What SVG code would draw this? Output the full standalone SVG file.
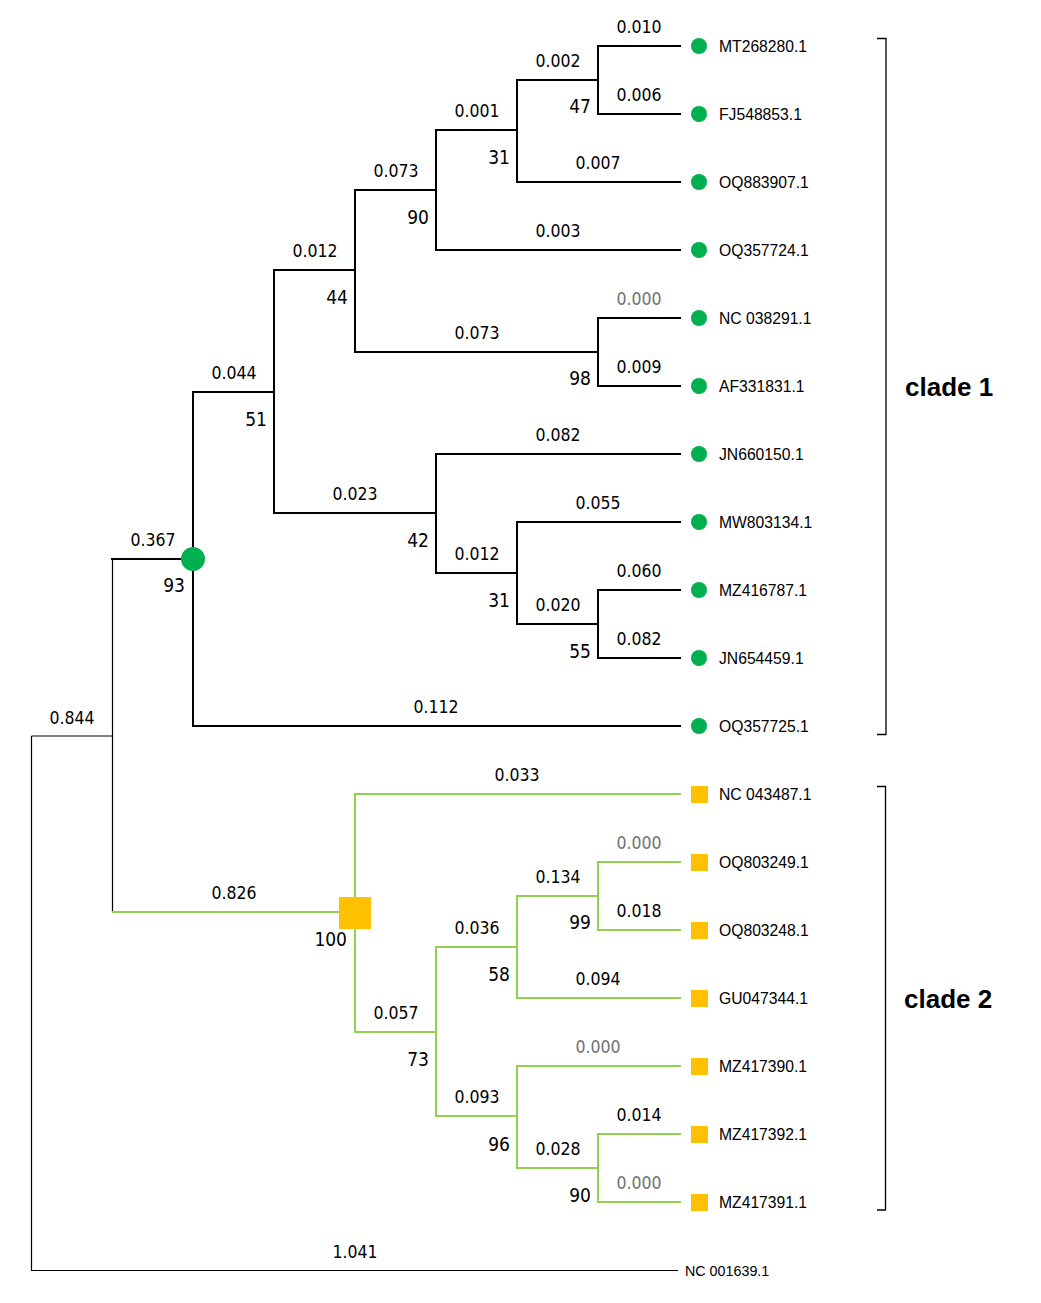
<svg xmlns="http://www.w3.org/2000/svg" width="1041" height="1303" viewBox="0 0 1041 1303">
  <style>
    .br { fill: none; stroke: #000; stroke-width: 2; stroke-linecap: square; }
    .br2 { fill: none; stroke: #92D050; stroke-width: 2; stroke-linecap: square; }
    .thin { fill: none; stroke: #000; stroke-width: 1.2; }
    .len { font-family: "DejaVu Sans Condensed", "DejaVu Sans", sans-serif; font-stretch: condensed; font-size: 17.5px; fill: #000; text-anchor: middle; }
    .zero { fill: #707070; }
    .bs { font-family: "DejaVu Sans Condensed", "DejaVu Sans", sans-serif; font-stretch: condensed; font-size: 19px; fill: #000; text-anchor: end; }
    .tip { font-family: "Liberation Sans", Arial, sans-serif; font-size: 15.7px; fill: #000; }
    .out { font-family: "Liberation Sans", Arial, sans-serif; font-size: 14.3px; fill: #000; }
    .clade { font-family: "Liberation Sans", Arial, sans-serif; font-size: 26px; font-weight: bold; fill: #000; }
    .g1 { fill: #00B050; }
    .g2 { fill: #FFC000; }
    .bracket { fill: none; stroke: #000; stroke-width: 1.3; }
  </style>
  <rect width="1041" height="1303" fill="#fff"/>

  <!-- branches -->
  <g id="connectors">
    <!-- root and outgroup -->
    <path class="thin" d="M31.5 736 V1270.5 H678 M31.5 736 H112.5 V912"/>
    <path class="thin" d="M112.5 736 V559" stroke-width="1.5"/>
    <!-- clade 1 -->
    <path class="br" d="M112 559 H193 M193 392 V726 M193 392 H274 M193 726 H680"/>
    <path class="br" d="M274 270 V513 M274 270 H355 M274 513 H436"/>
    <path class="br" d="M355 190 V352 M355 190 H436 M355 352 H598"/>
    <path class="br" d="M436 130 V250 M436 130 H517 M436 250 H680"/>
    <path class="br" d="M517 80 V182 M517 80 H598 M517 182 H680"/>
    <path class="br" d="M598 46 V114 M598 46 H680 M598 114 H680"/>
    <path class="br" d="M598 318 V386 M598 318 H680 M598 386 H680"/>
    <path class="br" d="M436 454 V573 M436 454 H680 M436 573 H517"/>
    <path class="br" d="M517 522 V624 M517 522 H680 M517 624 H598"/>
    <path class="br" d="M598 590 V658 M598 590 H680 M598 658 H680"/>
    <!-- clade 2 -->
    <path class="br2" d="M113 912 H355 M355 794 V1032 M355 794 H680 M355 1032 H436"/>
    <path class="br2" d="M436 947 V1116 M436 947 H517 M436 1116 H517"/>
    <path class="br2" d="M517 896 V998 M517 896 H598 M517 998 H680"/>
    <path class="br2" d="M598 862 V930 M598 862 H680 M598 930 H680"/>
    <path class="br2" d="M517 1066 V1168 M517 1066 H680 M517 1168 H598"/>
    <path class="br2" d="M598 1134 V1202 M598 1134 H680 M598 1202 H680"/>
  </g>

  <!-- branch lengths -->
  <g id="branch-lengths" class="len">
    <text x="639" y="33">0.010</text>
    <text x="639" y="101">0.006</text>
    <text x="558" y="67">0.002</text>
    <text x="598" y="169">0.007</text>
    <text x="477" y="117">0.001</text>
    <text x="558" y="237">0.003</text>
    <text x="396" y="177">0.073</text>
    <text x="639" y="305" class="zero">0.000</text>
    <text x="639" y="373">0.009</text>
    <text x="477" y="339">0.073</text>
    <text x="315" y="257">0.012</text>
    <text x="234" y="379">0.044</text>
    <text x="558" y="441">0.082</text>
    <text x="598" y="509">0.055</text>
    <text x="639" y="577">0.060</text>
    <text x="639" y="645">0.082</text>
    <text x="558" y="611">0.020</text>
    <text x="477" y="560">0.012</text>
    <text x="355" y="500">0.023</text>
    <text x="436" y="713">0.112</text>
    <text x="153" y="546">0.367</text>
    <text x="72" y="724">0.844</text>
    <text x="234" y="899">0.826</text>
    <text x="517" y="781">0.033</text>
    <text x="639" y="849" class="zero">0.000</text>
    <text x="558" y="883">0.134</text>
    <text x="639" y="917">0.018</text>
    <text x="477" y="934">0.036</text>
    <text x="598" y="985">0.094</text>
    <text x="396" y="1019">0.057</text>
    <text x="598" y="1053" class="zero">0.000</text>
    <text x="477" y="1103">0.093</text>
    <text x="639" y="1121">0.014</text>
    <text x="558" y="1155">0.028</text>
    <text x="639" y="1189" class="zero">0.000</text>
    <text x="355" y="1258">1.041</text>
  </g>

  <!-- internal nodes with bootstrap support -->
  <g id="node-c1" ><circle class="g1" cx="193" cy="559" r="12"/><text class="bs" x="185" y="592">93</text></g>
  <g id="node-c2"><rect class="g2" x="339" y="897" width="32" height="32"/><text class="bs" x="347" y="946">100</text></g>
  <g id="node-47"><text class="bs" x="591" y="113">47</text></g>
  <g id="node-31a"><text class="bs" x="510" y="164">31</text></g>
  <g id="node-90a"><text class="bs" x="429" y="224">90</text></g>
  <g id="node-44"><text class="bs" x="348" y="304">44</text></g>
  <g id="node-98"><text class="bs" x="591" y="385">98</text></g>
  <g id="node-51"><text class="bs" x="267" y="426">51</text></g>
  <g id="node-42"><text class="bs" x="429" y="547">42</text></g>
  <g id="node-31b"><text class="bs" x="510" y="607">31</text></g>
  <g id="node-55"><text class="bs" x="591" y="658">55</text></g>
  <g id="node-99"><text class="bs" x="591" y="929">99</text></g>
  <g id="node-58"><text class="bs" x="510" y="981">58</text></g>
  <g id="node-73"><text class="bs" x="429" y="1066">73</text></g>
  <g id="node-96"><text class="bs" x="510" y="1151">96</text></g>
  <g id="node-90b"><text class="bs" x="591" y="1202">90</text></g>

  <!-- clade 1 tips -->
  <g id="MT268280"><circle class="g1" cx="699" cy="46" r="8"/><text class="tip" x="719" y="52">MT268280.1</text></g>
  <g id="FJ548853"><circle class="g1" cx="699" cy="114" r="8"/><text class="tip" x="719" y="120">FJ548853.1</text></g>
  <g id="OQ883907"><circle class="g1" cx="699" cy="182" r="8"/><text class="tip" x="719" y="188">OQ883907.1</text></g>
  <g id="OQ357724"><circle class="g1" cx="699" cy="250" r="8"/><text class="tip" x="719" y="256">OQ357724.1</text></g>
  <g id="NC038291"><circle class="g1" cx="699" cy="318" r="8"/><text class="tip" x="719" y="324">NC 038291.1</text></g>
  <g id="AF331831"><circle class="g1" cx="699" cy="386" r="8"/><text class="tip" x="719" y="392">AF331831.1</text></g>
  <g id="JN660150"><circle class="g1" cx="699" cy="454" r="8"/><text class="tip" x="719" y="460">JN660150.1</text></g>
  <g id="MW803134"><circle class="g1" cx="699" cy="522" r="8"/><text class="tip" x="719" y="528">MW803134.1</text></g>
  <g id="MZ416787"><circle class="g1" cx="699" cy="590" r="8"/><text class="tip" x="719" y="596">MZ416787.1</text></g>
  <g id="JN654459"><circle class="g1" cx="699" cy="658" r="8"/><text class="tip" x="719" y="664">JN654459.1</text></g>
  <g id="OQ357725"><circle class="g1" cx="699" cy="726" r="8"/><text class="tip" x="719" y="732">OQ357725.1</text></g>

  <!-- clade 2 tips -->
  <g id="NC043487"><rect class="g2" x="691" y="786" width="17" height="17"/><text class="tip" x="719" y="800">NC 043487.1</text></g>
  <g id="OQ803249"><rect class="g2" x="691" y="854" width="17" height="17"/><text class="tip" x="719" y="868">OQ803249.1</text></g>
  <g id="OQ803248"><rect class="g2" x="691" y="922" width="17" height="17"/><text class="tip" x="719" y="936">OQ803248.1</text></g>
  <g id="GU047344"><rect class="g2" x="691" y="990" width="17" height="17"/><text class="tip" x="719" y="1004">GU047344.1</text></g>
  <g id="MZ417390"><rect class="g2" x="691" y="1058" width="17" height="17"/><text class="tip" x="719" y="1072">MZ417390.1</text></g>
  <g id="MZ417392"><rect class="g2" x="691" y="1126" width="17" height="17"/><text class="tip" x="719" y="1140">MZ417392.1</text></g>
  <g id="MZ417391"><rect class="g2" x="691" y="1194" width="17" height="17"/><text class="tip" x="719" y="1208">MZ417391.1</text></g>

  <!-- outgroup -->
  <g id="NC001639"><text class="out" x="685" y="1276">NC 001639.1</text></g>

  <!-- clade brackets -->
  <g id="clade1">
    <path class="bracket" d="M877 38.5 H886 V734.5 H877"/>
    <text class="clade" x="905" y="396">clade 1</text>
  </g>
  <g id="clade2">
    <path class="bracket" d="M877 786.5 H885.5 V1210 H877"/>
    <text class="clade" x="904" y="1008">clade 2</text>
  </g>
</svg>
